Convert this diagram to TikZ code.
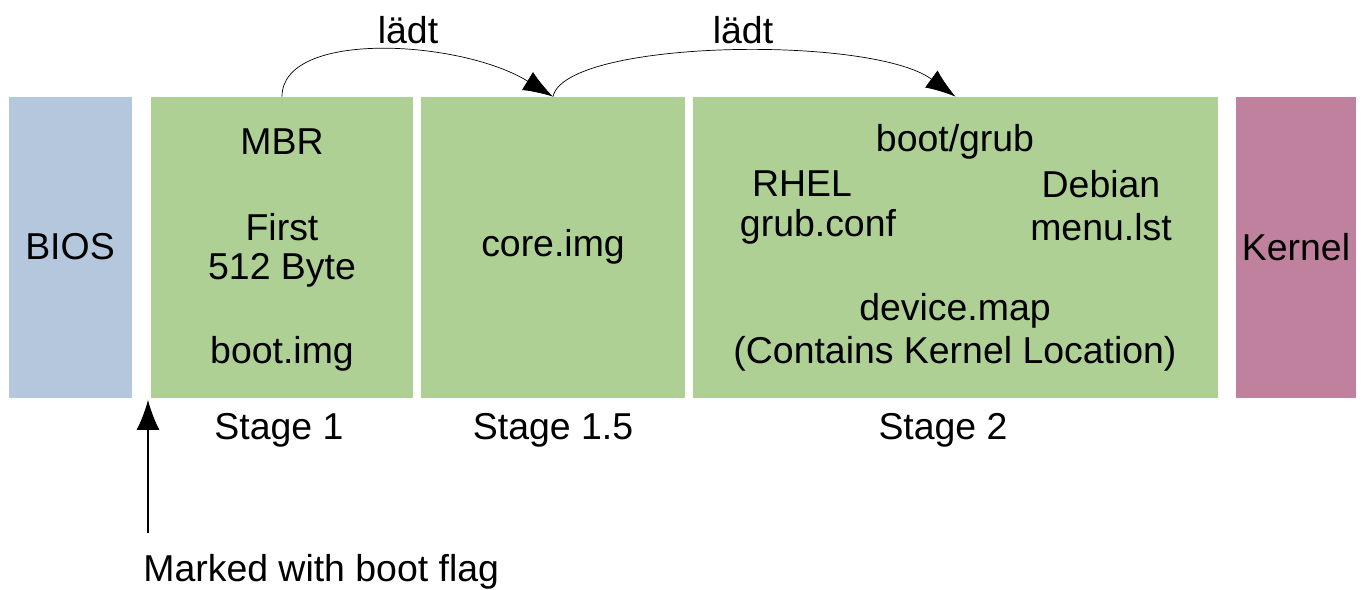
\documentclass[tikz,border=0pt]{standalone}
\usepackage{fontspec}
\setmainfont{Liberation Sans}
\usepackage{xcolor}
\usetikzlibrary{arrows.meta, positioning}

\definecolor{biosblue}{HTML}{B4C7DC}
\definecolor{grubgreen}{HTML}{AFD095}
\definecolor{kernelred}{HTML}{BF819E}

\begin{document}
\begin{tikzpicture}[
  x=0.02cm, y=-0.02cm,
  block/.style={inner sep=0pt, minimum height=301*0.02cm},
  txt/.style={inner sep=0pt, font=\fontsize{21.3}{25}\selectfont},
  loads/.style={-{Latex[length=17pt, width=12pt]}, thin},
  up/.style={-{Latex[length=17pt, width=13pt]}, semithick}
]
\useasboundingbox (0,0) rectangle (1366,590);
% the boot chain
\node[block, fill=biosblue, minimum width=123*0.02cm] (bios) at (70.5,247.5) {};
\node[block, fill=grubgreen, minimum width=262*0.02cm] (stage1) at (282,247.5) {};
\node[block, fill=grubgreen, minimum width=264*0.02cm] (stage15) at (553,247.5) {};
\node[block, fill=grubgreen, minimum width=525*0.02cm] (stage2) at (955.5,247.5) {};
\node[block, fill=kernelred, minimum width=120*0.02cm] (kernel) at (1296,247.5) {};
% texts in the blocks
\node[txt] (biostxt) at (70,247) {BIOS};
\node[txt] (mbr) at (282,142) {MBR};
\node[txt] (first) at (282,227) {First};
\node[txt] (bytes) at (282,270) {512 Byte};
\node[txt] (bootimg) at (282,354) {boot.img};
\node[txt] (coreimg) at (553,247) {core.img};
\node[txt] (bootgrub) at (955,142) {boot/grub};
\node[txt] (rhel) at (802,184) {RHEL};
\node[txt] (grubconf) at (818,227) {grub.conf};
\node[txt] (debian) at (1101,184) {Debian};
\node[txt] (menulst) at (1101,227) {menu.lst};
\node[txt] (devmap) at (955,311) {device.map};
\node[txt] (kernloc) at (955,354) {(Contains Kernel Location)};
\node[txt] (kerneltxt) at (1296,247) {Kernel};
% stage labels
\node[txt] (s1) at (279,430) {Stage 1};
\node[txt] (s15) at (553,430) {Stage 1.5};
\node[txt] (s2) at (943,430) {Stage 2};
\node[txt] (load1) at (408,30) {lädt};
\node[txt] (load2) at (743,30) {lädt};
\node[txt, anchor=west] (flag) at (143,572) {Marked with boot flag};
% arrows
\draw[loads] (stage1.north) .. controls +(0,-67) and +(-93,-57) .. (stage15.north);
\draw[loads] (stage15.north) .. controls +(12,-57) and +(-85,-62) .. (stage2.north);
\coordinate (flagfoot) at (148,533);
\coordinate (flagtip) at (148,400);
\draw[up] (flagfoot) -- (flagtip);
\end{tikzpicture}
\end{document}
